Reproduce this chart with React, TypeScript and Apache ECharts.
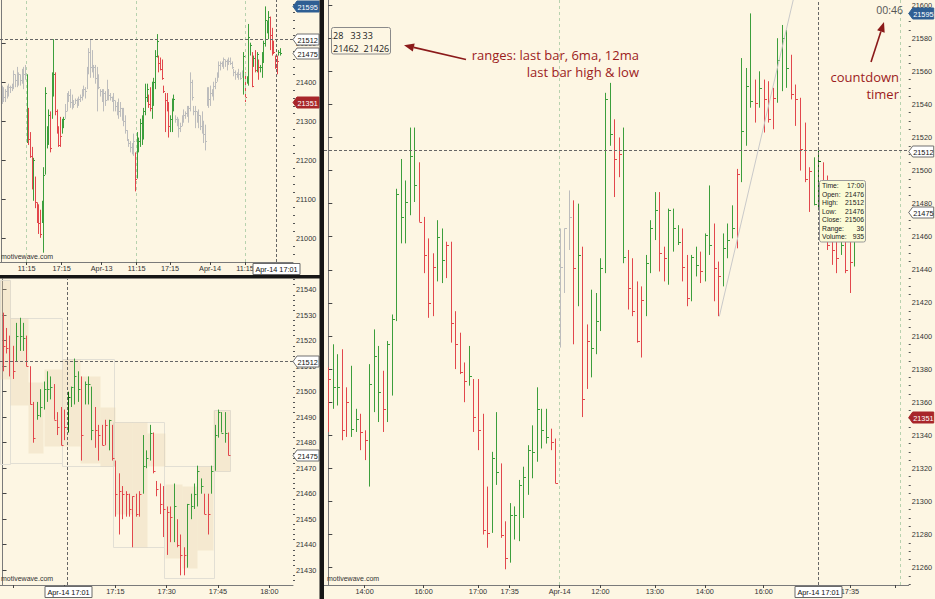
import React, { useEffect, useRef } from "react";
import * as echarts from "echarts";

const BG = "#fdf6e3";
const FONT = "Liberation Sans, Arial, sans-serif";
const NOTE_FONT = "Open Sans, Noto Sans, sans-serif";
const AXIS = "#7a7a7a";
const NOTE = "#9c1c1c";
const ARROW = "#8b1a1a";
const BAR_COLORS = ["#3c9e3c", "#e2474c", "#bdbdbd", "#0b6b0b"]; // up, down, neutral, highlighted

// ---------- main panel (right) ----------
const MAIN_HIGH = [
  21381, 21395, 21389, 21392, 21369, 21382, 21356, 21353, 21343, 21383,
  21404, 21394, 21379, 21397, 21413, 21489, 21507, 21494, 21526, 21526,
  21505, 21472, 21459, 21450, 21470, 21465, 21457, 21457, 21415, 21402,
  21384, 21394, 21374, 21374, 21353, 21309, 21330, 21354, 21323, 21288,
  21299, 21297, 21313, 21321, 21334, 21346, 21369, 21356, 21356, 21344,
  21338, 21465, 21465, 21488, 21482, 21480, 21454, 21407, 21428, 21426,
  21447, 21547, 21553, 21531, 21520, 21526, 21452, 21447, 21433, 21430,
  21449, 21470, 21487, 21487, 21454, 21477, 21477, 21467, 21465, 21449,
  21449, 21454, 21451, 21462, 21491, 21468, 21445, 21462, 21468, 21479,
  21501, 21568, 21562, 21595, 21555, 21560, 21555, 21554, 21550, 21580,
  21588, 21585, 21570, 21552, 21544, 21529, 21502, 21508, 21512, 21505,
  21497, 21482, 21479, 21473, 21470, 21462, 21464,
];
const MAIN_LOW = [
  21342, 21356, 21358, 21337, 21339, 21339, 21342, 21331, 21325, 21309,
  21354, 21348, 21342, 21348, 21364, 21409, 21456, 21456, 21473, 21481,
  21469, 21438, 21411, 21412, 21433, 21432, 21435, 21396, 21380, 21377,
  21360, 21370, 21342, 21331, 21280, 21272, 21281, 21310, 21278, 21259,
  21263, 21277, 21276, 21290, 21304, 21314, 21324, 21332, 21335, 21331,
  21311, 21393, 21426, 21452, 21395, 21418, 21351, 21368, 21375, 21389,
  21403, 21438, 21515, 21484, 21496, 21444, 21416, 21412, 21396, 21387,
  21412, 21438, 21458, 21439, 21433, 21431, 21451, 21455, 21433, 21418,
  21421, 21436, 21432, 21433, 21449, 21421, 21412, 21430, 21447, 21459,
  21453, 21493, 21515, 21538, 21529, 21538, 21523, 21529, 21525, 21541,
  21548, 21550, 21543, 21527, 21500, 21493, 21475, 21479, 21476, 21458,
  21452, 21443, 21438, 21449, 21438, 21426, 21442,
];
const MAIN_CLOSE = [
  21374, 21369, 21369, 21343, 21360, 21344, 21350, 21342, 21337, 21371,
  21388, 21366, 21356, 21395, 21410, 21486, 21472, 21481, 21509, 21491,
  21469, 21449, 21420, 21442, 21460, 21446, 21455, 21408, 21395, 21378,
  21373, 21376, 21351, 21343, 21283, 21281, 21326, 21318, 21280, 21266,
  21292, 21292, 21310, 21315, 21331, 21330, 21356, 21343, 21339, 21336,
  21311, 21442, 21465, 21472, 21441, 21449, 21362, 21397, 21393, 21409,
  21441, 21543, 21522, 21507, 21510, 21448, 21429, 21415, 21397, 21422,
  21444, 21465, 21476, 21450, 21447, 21476, 21465, 21457, 21442, 21423,
  21448, 21443, 21439, 21461, 21455, 21441, 21436, 21453, 21458, 21465,
  21498, 21524, 21551, 21542, 21541, 21550, 21543, 21531, 21544, 21567,
  21580, 21562, 21546, 21543, 21513, 21495, 21500, 21480, 21506, 21467,
  21455, 21452, 21447, 21455, 21440, 21445, 21461,
];
const MAIN_DIR =
  "duudduuddu" + "uuduuuuuuu" + "dddduudddd" + "dudddduudd" + "uuuuuuuuud" +
  "dnnndudduu" + "uuuddudddd" + "uuudduuudd" + "uuduudduuu" + "duuududddu" +
  "uuddddduhd" + "ddduddu";
const MAIN_X_TICKS = [8, 21, 33, 40, 51, 60, 72, 83, 96, 115, 125];
const MAIN_X_LABELS = ["14:00", "16:00", "17:00", "17:35", "Apr-14", "12:00", "13:00", "14:00", "16:00", "17:35", ""];
const MAIN_Y_LABELS = [
  21260, 21280, 21300, 21320, 21340, 21360, 21380, 21400, 21420,
  21440, 21460, 21480, 21500, 21520, 21540, 21560, 21580, 21600,
];
const MAIN_SESSION_LINES = [51, 126.2];
const MAIN_XHAIR = 108;
const TREND_LINE = [[86.2, 21411.8], [102.5, 21603.1]];

// ---------- top-left panel ----------
const TL_HIGH = [
  21392, 21388, 21383, 21392, 21397, 21392, 21397, 21431, 21421, 21440,
  21426, 21421, 21435, 21440, 21445, 21421, 21335, 21273, 21235, 21207,
  21159, 21093, 21088, 21074, 21097, 21183, 21388, 21288, 21331, 21326,
  21426, 21511, 21426, 21331, 21288, 21312, 21307, 21312, 21345, 21373,
  21378, 21383, 21369, 21354, 21359, 21359, 21364, 21369, 21383, 21392,
  21388, 21440, 21488, 21511, 21483, 21445, 21445, 21440, 21421, 21383,
  21383, 21383, 21378, 21407, 21383, 21373, 21364, 21373, 21354, 21350,
  21359, 21350, 21335, 21335, 21316, 21278, 21254, 21250, 21245, 21269,
  21221, 21273, 21259, 21307, 21316, 21335, 21397, 21397, 21369, 21388,
  21402, 21412, 21483, 21524, 21469, 21464, 21459, 21392, 21373, 21373,
  21350, 21316, 21359, 21369, 21316, 21312, 21307, 21297, 21316, 21331,
  21326, 21340, 21340, 21426, 21407, 21340, 21340, 21326, 21331, 21316,
  21326, 21302, 21292, 21388, 21388, 21392, 21383, 21402, 21412, 21426,
  21454, 21454, 21454, 21464, 21459, 21459, 21464, 21464, 21454, 21435,
  21431, 21426, 21435, 21426, 21431, 21478, 21426, 21416, 21550, 21502,
  21478, 21469, 21483, 21478, 21459, 21445, 21478, 21507, 21595, 21559,
  21583, 21569, 21540, 21507, 21469, 21469, 21483, 21488,
];
const TL_LOW = [
  21345, 21350, 21350, 21359, 21364, 21373, 21378, 21383, 21388, 21388,
  21392, 21392, 21397, 21383, 21407, 21245, 21240, 21207, 21126, 21097,
  21078, 21040, 21012, 21002, 21040, 20964, 21164, 21231, 21240, 21221,
  21307, 21364, 21316, 21269, 21235, 21235, 21269, 21283, 21307, 21326,
  21350, 21335, 21331, 21335, 21345, 21335, 21340, 21350, 21354, 21364,
  21359, 21383, 21421, 21412, 21426, 21412, 21397, 21326, 21383, 21364,
  21350, 21326, 21340, 21354, 21354, 21354, 21350, 21326, 21326, 21316,
  21307, 21312, 21302, 21288, 21269, 21250, 21235, 21221, 21216, 21212,
  21121, 21154, 21221, 21235, 21240, 21254, 21316, 21350, 21335, 21326,
  21307, 21340, 21383, 21464, 21426, 21431, 21407, 21373, 21273, 21326,
  21259, 21273, 21273, 21326, 21297, 21288, 21259, 21273, 21288, 21297,
  21307, 21312, 21297, 21326, 21354, 21316, 21283, 21297, 21283, 21278,
  21269, 21245, 21226, 21340, 21335, 21340, 21364, 21354, 21383, 21402,
  21412, 21431, 21440, 21435, 21440, 21431, 21445, 21445, 21435, 21416,
  21407, 21412, 21407, 21407, 21412, 21369, 21350, 21397, 21392, 21469,
  21388, 21440, 21426, 21426, 21407, 21426, 21412, 21450, 21492, 21526,
  21511, 21483, 21469, 21473, 21435, 21421, 21469, 21469,
];
const TL_CLOSE = [
  21373, 21364, 21378, 21383, 21388, 21388, 21392, 21421, 21407, 21412,
  21421, 21407, 21426, 21421, 21435, 21326, 21254, 21212, 21135, 21202,
  21093, 21059, 21040, 21012, 21088, 21164, 21373, 21278, 21316, 21231,
  21412, 21421, 21326, 21283, 21240, 21264, 21302, 21307, 21326, 21354,
  21369, 21350, 21354, 21345, 21354, 21350, 21359, 21364, 21373, 21383,
  21378, 21431, 21478, 21440, 21435, 21440, 21412, 21392, 21388, 21378,
  21359, 21373, 21354, 21383, 21369, 21364, 21359, 21354, 21340, 21335,
  21326, 21335, 21316, 21302, 21278, 21254, 21245, 21235, 21226, 21250,
  21154, 21259, 21250, 21297, 21307, 21326, 21364, 21383, 21345, 21335,
  21383, 21402, 21469, 21507, 21450, 21435, 21412, 21378, 21354, 21335,
  21288, 21307, 21345, 21359, 21307, 21302, 21283, 21288, 21307, 21316,
  21321, 21331, 21335, 21402, 21364, 21326, 21326, 21307, 21316, 21288,
  21283, 21269, 21250, 21373, 21359, 21373, 21369, 21392, 21402, 21421,
  21445, 21450, 21445, 21459, 21454, 21450, 21454, 21450, 21440, 21426,
  21421, 21416, 21421, 21412, 21421, 21469, 21364, 21412, 21516, 21497,
  21392, 21464, 21431, 21473, 21440, 21440, 21473, 21502, 21559, 21554,
  21569, 21521, 21478, 21478, 21440, 21454, 21478, 21475,
];
const TL_DIR =
  "nnnnnnnnnnnnnnn" +
  "udddudddduuuuuduudddduu" +
  "nnnnnnnnnn" + "nnnnnnnnnn" + "nnnnnnnnnn" + "nnnnnnnnnn" + "nn" +
  "d" + "uuuuuuu" + "dd" + "uuuu" + "ddddddd" + "uuu" +
  "nnnnnnnnnn" + "nnnnnnnnnn" + "nnnnnnnnnn" + "nnnnnnnnnn" + "n" +
  "u" + "d" + "uuu" + "d" + "u" + "d" + "u" + "d" + "uuuuuu" + "ddddd" + "uu";
const TL_X_TICKS = [15, 36, 60, 81, 101, 125, 146];
const TL_X_LABELS = ["11:15", "17:15", "Apr-13", "11:15", "17:15", "Apr-14", "11:15"];
const TL_Y_LABELS = [21000, 21100, 21200, 21300, 21400, 21500];
const TL_SESSION_LINES = [15, 81, 146];
const TL_XHAIR = 164.6;

// ---------- bottom-left panel (1-minute bars) ----------
const BL_HIGH = [
  21531, 21525, 21522, 21518, 21527, 21529, 21527, 21522, 21510, 21496,
  21496, 21501, 21504, 21508, 21506, 21503, 21492, 21494, 21493, 21500,
  21502, 21513, 21508, 21506, 21504, 21506, 21502, 21494, 21487, 21487,
  21489, 21489, 21487, 21473, 21468, 21463, 21461, 21460, 21459, 21460,
  21461, 21483, 21477, 21487, 21484, 21465, 21464, 21463, 21455, 21455,
  21464, 21450, 21444, 21439, 21456, 21460, 21464, 21471, 21466, 21460,
  21460, 21471, 21487, 21493, 21492, 21492, 21484,
];
const BL_LOW = [
  21508, 21515, 21506, 21505, 21512, 21516, 21516, 21510, 21495, 21480,
  21489, 21490, 21493, 21496, 21497, 21489, 21483, 21479, 21481, 21484,
  21494, 21495, 21496, 21473, 21495, 21495, 21481, 21478, 21473, 21479,
  21479, 21477, 21473, 21451, 21444, 21450, 21451, 21451, 21439, 21451,
  21451, 21460, 21470, 21473, 21468, 21459, 21452, 21443, 21436, 21441,
  21441, 21439, 21428, 21428, 21431, 21450, 21454, 21455, 21460, 21452,
  21444, 21460, 21469, 21482, 21484, 21480, 21475,
];
const BL_CLOSE = [
  21518, 21517, 21512, 21508, 21522, 21522, 21521, 21510, 21495, 21482,
  21491, 21494, 21501, 21501, 21502, 21489, 21486, 21479, 21486, 21498,
  21502, 21506, 21501, 21483, 21503, 21503, 21485, 21485, 21483, 21479,
  21487, 21489, 21474, 21460, 21461, 21460, 21460, 21454, 21459, 21452,
  21460, 21471, 21474, 21484, 21469, 21462, 21456, 21454, 21453, 21451,
  21455, 21440, 21436, 21436, 21456, 21455, 21460, 21469, 21463, 21452,
  21452, 21469, 21483, 21492, 21484, 21484, 21475,
];
const BL_DIR =
  "dddd" + "uuu" + "ddd" + "uuuuu" + "dddd" + "h" + "uuu" + "d" + "uuu" + "dddd" +
  "u" + "ddddddddd" + "uuu" + "dddddd" + "u" + "ddd" + "uuuuu" + "dd" + "uuuuu" + "d";
const BL_X_TICKS = [3, 18, 33, 48, 63, 78];
const BL_X_LABELS = ["", "", "17:15", "17:30", "17:45", "18:00"];
const BL_Y_LABELS = [21430, 21440, 21450, 21460, 21470, 21480, 21490, 21500, 21510, 21520, 21530, 21540];
const BL_XHAIR = 19;
// shaded range bands (inner) and their outer envelopes
const BL_BAND_START = [-0.7, 2.2, 7.5, 12, 17.3, 22.7, 28.5, 32.9, 37.8, 42.1, 47.5, 52.4, 56.8, 61.6];
const BL_BAND_END = [2.2, 7.5, 12, 17.3, 22.7, 28.5, 32.9, 37.8, 42.1, 47.5, 52.4, 56.8, 61.6, 66.5];
const BL_BAND_HIGH = [21544, 21529, 21504, 21509, 21513, 21506, 21494, 21488, 21488, 21484, 21464, 21463, 21471, 21493];
const BL_BAND_LOW = [21505, 21495, 21476, 21479, 21479, 21472, 21471, 21452, 21439, 21471, 21435, 21431, 21438, 21469];
const BL_ENV_START = [-0.7, 2.2, 17.3, 32.4, 47.3, 61.9];
const BL_ENV_END = [2.2, 17.3, 32.4, 47.3, 61.9, 66.5];
const BL_ENV_HIGH = [21544, 21529, 21513, 21488, 21471, 21493];
const BL_ENV_LOW = [21472, 21472, 21471, 21439, 21427, 21469];

// ---------- price tags, crosshair, notes ----------
const XHAIR_PRICE = 21512;
const XHAIR_LABEL = "Apr-14 17:01";
const PRICE_TAGS = [21595, 21512, 21475, 21351];
const PRICE_TAG_KINDS = [0, 1, 1, 2];
const BL_TAGS = [21512, 21475];
const BL_TAG_KINDS = [1, 1];
const RANGE_VALUES = [28, 33, 33];
const LAST_BAR_HL = [21462, 21426];
const COUNTDOWN = "00:46";
const TOOLTIP_LABELS = ["Time:", "Open:", "High:", "Low:", "Close:", "Range:", "Volume:"];
const TOOLTIP_VALUES = ["17:00", "21476", "21512", "21476", "21506", "36", "935"];

function minorTicks(labels: number[], step: number, lo: number, hi: number) {
  const out: number[] = [];
  for (let v = Math.ceil(lo / step) * step; v <= hi; v += step) {
    if (labels.indexOf(v) < 0) out.push(v);
  }
  return out;
}

function ohlcSeries(ax: number, ay: number, high: number[], low: number[], close: number[], dir: string, tickLen: number, lines: any[]) {
  const data = high.map((h, i) => [i, h, low[i], close[i], Math.max(0, "udnh".indexOf(dir[i] || "n"))]);
  return {
    type: "custom",
    xAxisIndex: ax,
    yAxisIndex: ay,
    clip: true,
    z: 3,
    silent: true,
    data,
    renderItem: (params: any, api: any) => {
      const x = api.value(0);
      const top = api.coord([x, api.value(1)]);
      const bot = api.coord([x, api.value(2)]);
      const cl = api.coord([x, api.value(3)]);
      const color = BAR_COLORS[api.value(4)];
      const px = Math.round(top[0]) + 0.5;
      const cy = Math.round(cl[1]) + 0.5;
      return {
        type: "group",
        children: [
          { type: "line", shape: { x1: px, y1: top[1], x2: px, y2: bot[1] }, style: { stroke: color, lineWidth: 1 } },
          { type: "line", shape: { x1: px, y1: cy, x2: px + tickLen, y2: cy }, style: { stroke: color, lineWidth: 1 } },
        ],
      };
    },
    markLine: {
      silent: true,
      symbol: ["none", "none"],
      label: { show: false },
      animation: false,
      data: lines,
    },
  };
}

function bandSeries(start: number[], end: number[], hi: number[], lo: number[], style: any) {
  return {
    type: "custom",
    xAxisIndex: 1,
    yAxisIndex: 1,
    clip: true,
    z: 1,
    silent: true,
    data: start.map((s, i) => [s, hi[i], end[i], lo[i]]),
    renderItem: (params: any, api: any) => {
      const a = api.coord([api.value(0), api.value(1)]);
      const b = api.coord([api.value(2), api.value(3)]);
      return {
        type: "rect",
        shape: { x: Math.round(a[0]) + 0.5, y: Math.round(a[1]) + 0.5, width: Math.round(b[0] - a[0]), height: Math.round(b[1] - a[1]) },
        style,
      };
    },
  };
}

function tagSeries(ax: number, ay: number, values: number[], kinds: number[], width: number) {
  const fills = ["#2f5f93", "#ffffff", "#a8262a"];
  const strokes = ["#2f5f93", "#707070", "#a8262a"];
  const texts = ["#ffffff", "#111111", "#ffffff"];
  return {
    type: "custom",
    xAxisIndex: ax,
    yAxisIndex: ay,
    clip: false,
    z: 20,
    silent: true,
    data: values.map((v, i) => [0, v, kinds[i]]),
    renderItem: (params: any, api: any) => {
      const cs = params.coordSys;
      const y = Math.round(api.coord([0, api.value(1)])[1]) + 0.5;
      const x0 = cs.x + cs.width;
      const k = api.value(2);
      return {
        type: "group",
        children: [
          {
            type: "polygon",
            shape: { points: [[x0, y], [x0 + 4, y - 5.5], [x0 + width, y - 5.5], [x0 + width, y + 5.5], [x0 + 4, y + 5.5]] },
            style: { fill: fills[k], stroke: strokes[k], lineWidth: 1 },
          },
          {
            type: "text",
            style: {
              text: String(api.value(1)), x: x0 + 4.5, y: y + 0.5,
              align: "left", verticalAlign: "middle", textAlign: "left", textVerticalAlign: "middle",
              fontSize: 7.3, fontFamily: FONT, fill: texts[k],
            },
          },
        ],
      };
    },
  };
}

function xhairBoxSeries(ax: number, ay: number, xVal: number, yVal: number) {
  return {
    type: "custom",
    xAxisIndex: ax,
    yAxisIndex: ay,
    clip: false,
    z: 30,
    silent: true,
    data: [[xVal, yVal]],
    renderItem: (params: any, api: any) => {
      const cs = params.coordSys;
      const x = Math.round(api.coord([api.value(0), api.value(1)])[0]);
      const y0 = cs.y + cs.height;
      const w = 47;
      return {
        type: "group",
        children: [
          { type: "rect", shape: { x: x - w / 2 + 0.5, y: y0 + 1.5, width: w, height: 11 }, style: { fill: "#ffffff", stroke: "#6a6a6a", lineWidth: 1 } },
          {
            type: "text",
            style: {
              text: XHAIR_LABEL, x: x + 0.5, y: y0 + 7.3,
              align: "center", verticalAlign: "middle", textAlign: "center", textVerticalAlign: "middle",
              fontSize: 7.3, fontFamily: FONT, fill: "#111",
            },
          },
        ],
      };
    },
  };
}

function xAxisCfg(gridIndex: number, min: number, max: number, ticks: number[], labels: string[]) {
  return {
    type: "value",
    gridIndex,
    min,
    max,
    position: "bottom",
    axisLine: { show: true, lineStyle: { color: AXIS, width: 1 } },
    axisTick: { show: true, length: 3, customValues: ticks, lineStyle: { color: "#444" } },
    axisLabel: {
      show: true,
      customValues: ticks,
      formatter: (v: number) => {
        const i = ticks.indexOf(v);
        return i >= 0 ? labels[i] : "";
      },
      fontSize: 7.3,
      fontFamily: FONT,
      color: "#333",
      margin: 3,
    },
    splitLine: { show: false },
  };
}

function yMajor(gridIndex: number, min: number, max: number, labels: number[]) {
  return {
    type: "value",
    gridIndex,
    min,
    max,
    position: "right",
    axisLine: { show: true, lineStyle: { color: AXIS, width: 1 } },
    axisTick: { show: true, length: 4, customValues: labels, lineStyle: { color: "#444" } },
    axisLabel: {
      show: true,
      customValues: labels,
      formatter: (v: number) => String(v),
      fontSize: 7.3,
      fontFamily: FONT,
      color: "#333",
      margin: 3,
    },
    splitLine: { show: false },
  };
}

function yMinor(gridIndex: number, min: number, max: number, ticks: number[]) {
  return {
    type: "value",
    gridIndex,
    min,
    max,
    position: "right",
    axisLine: { show: false },
    axisTick: { show: true, length: 2, customValues: ticks, lineStyle: { color: "#555" } },
    axisLabel: { show: false },
    splitLine: { show: false },
  };
}

const XHAIR_STYLE = { type: [3, 2], color: "#666", width: 1 };
const SESSION_STYLE = { type: [3, 3], color: "#b7d2ae", width: 1 };

function txt(x: number, y: number, text: string, size: number, fill: string, align = "left", family = FONT, z = 50) {
  return {
    type: "text",
    z,
    style: {
      text, x, y, fontSize: size, fontFamily: family, fill,
      align, verticalAlign: "middle", textAlign: align, textVerticalAlign: "middle",
    },
  };
}

function buildOption() {
  const TL_RANGE = [20940.1, 21611.4];
  const BL_RANGE = [21424.2, 21544.2];
  const MAIN_RANGE = [21249.5, 21603.1];

  const graphics: any[] = [
    // panel separators
    { type: "rect", z: 60, shape: { x: 319.5, y: 0, width: 4.5, height: 599 }, style: { fill: "#161616" } },
    { type: "rect", z: 60, shape: { x: 0, y: 275, width: 320, height: 3.5 }, style: { fill: "#161616" } },
    // watermarks
    txt(1, 256.5, "motivewave.com", 7, "#333", "left", FONT, 5),
    txt(1, 578, "motivewave.com", 7, "#333", "left", FONT, 5),
    txt(327, 578, "motivewave.com", 7, "#333", "left", FONT, 5),
    // ranges box
    { type: "rect", z: 50, shape: { x: 331.5, y: 27.5, width: 59, height: 26.5, r: 2 }, style: { fill: "rgba(0,0,0,0)", stroke: "#8a8a8a", lineWidth: 1 } },
    txt(333, 35.7, String(RANGE_VALUES[0]), 9, "#222", "left", NOTE_FONT),
    txt(350.5, 35.7, String(RANGE_VALUES[1]), 9, "#222", "left", NOTE_FONT),
    txt(362.5, 35.7, String(RANGE_VALUES[2]), 9, "#222", "left", NOTE_FONT),
    txt(333, 48, String(LAST_BAR_HL[0]), 9, "#222", "left", NOTE_FONT),
    txt(363.5, 48, String(LAST_BAR_HL[1]), 9, "#222", "left", NOTE_FONT),
    // arrow to ranges box
    { type: "line", z: 50, shape: { x1: 466, y1: 59.5, x2: 413.7, y2: 47.4 }, style: { stroke: ARROW, lineWidth: 1.6 } },
    { type: "polygon", z: 50, shape: { points: [[404, 45.2], [414.7, 43.5], [412.8, 51.4]] }, style: { fill: ARROW } },
    txt(639, 55, "ranges: last bar, 6ma, 12ma", 13, NOTE, "right", NOTE_FONT),
    txt(639, 71.5, "last bar high & low", 13, NOTE, "right", NOTE_FONT),
    // countdown
    txt(903, 10, COUNTDOWN, 10.5, "#555", "right", NOTE_FONT),
    { type: "line", z: 50, shape: { x1: 871, y1: 62, x2: 880.9, y2: 31.5 }, style: { stroke: ARROW, lineWidth: 1.6 } },
    { type: "polygon", z: 50, shape: { points: [[884, 22], [884.7, 32.8], [877.1, 30.3]] }, style: { fill: ARROW } },
    txt(899, 77, "countdown", 13, NOTE, "right", NOTE_FONT),
    txt(899, 93.5, "timer", 13, NOTE, "right", NOTE_FONT),
    // data window tooltip
    { type: "rect", z: 70, shape: { x: 819.5, y: 180.5, width: 46, height: 61.5, r: 2 }, style: { fill: "#fbfbd6", stroke: "#9a9a9a", lineWidth: 1 } },
  ];
  TOOLTIP_LABELS.forEach((lab, j) => {
    graphics.push(txt(822, 185.8 + 8.45 * j, lab, 6.8, "#222", "left", FONT, 71));
    graphics.push(txt(864, 185.8 + 8.45 * j, TOOLTIP_VALUES[j], 6.8, "#222", "right", FONT, 71));
  });

  return {
    animation: false,
    backgroundColor: BG,
    grid: [
      { left: 0, top: 0, width: 293, height: 262 },
      { left: 0, top: 279, width: 293, height: 306 },
      { left: 324, top: 0, width: 586, height: 585 },
    ],
    xAxis: [
      xAxisCfg(0, -1.0, 174.8, TL_X_TICKS, TL_X_LABELS),
      xAxisCfg(1, -0.74, 84.93, BL_X_TICKS, BL_X_LABELS),
      xAxisCfg(2, -0.95, 127.96, MAIN_X_TICKS, MAIN_X_LABELS),
    ],
    yAxis: [
      yMajor(0, TL_RANGE[0], TL_RANGE[1], TL_Y_LABELS),
      yMajor(1, BL_RANGE[0], BL_RANGE[1], BL_Y_LABELS),
      yMajor(2, MAIN_RANGE[0], MAIN_RANGE[1], MAIN_Y_LABELS),
      yMinor(0, TL_RANGE[0], TL_RANGE[1], minorTicks(TL_Y_LABELS, 20, TL_RANGE[0], TL_RANGE[1])),
      yMinor(1, BL_RANGE[0], BL_RANGE[1], minorTicks(BL_Y_LABELS, 2, BL_RANGE[0], BL_RANGE[1])),
      yMinor(2, MAIN_RANGE[0], MAIN_RANGE[1], minorTicks(MAIN_Y_LABELS, 5, MAIN_RANGE[0], MAIN_RANGE[1])),
    ],
    series: [
      bandSeries(BL_ENV_START, BL_ENV_END, BL_ENV_HIGH, BL_ENV_LOW, { fill: "rgba(0,0,0,0)", stroke: "#e2dfd4", lineWidth: 1 }),
      bandSeries(BL_BAND_START, BL_BAND_END, BL_BAND_HIGH, BL_BAND_LOW, { fill: "rgba(228,200,158,0.28)", stroke: "none" }),
      ohlcSeries(0, 0, TL_HIGH, TL_LOW, TL_CLOSE, TL_DIR, 1.5, [
        ...TL_SESSION_LINES.map((v) => ({ xAxis: v, lineStyle: SESSION_STYLE })),
        { xAxis: TL_XHAIR, lineStyle: XHAIR_STYLE },
        { yAxis: XHAIR_PRICE, lineStyle: XHAIR_STYLE },
      ]),
      ohlcSeries(1, 1, BL_HIGH, BL_LOW, BL_CLOSE, BL_DIR, 2, [
        { xAxis: BL_XHAIR, lineStyle: XHAIR_STYLE },
        { yAxis: XHAIR_PRICE, lineStyle: XHAIR_STYLE },
      ]),
      ohlcSeries(2, 2, MAIN_HIGH, MAIN_LOW, MAIN_CLOSE, MAIN_DIR, 2.5, [
        ...MAIN_SESSION_LINES.map((v) => ({ xAxis: v, lineStyle: SESSION_STYLE })),
        { xAxis: MAIN_XHAIR, lineStyle: XHAIR_STYLE },
        { yAxis: XHAIR_PRICE, lineStyle: XHAIR_STYLE },
      ]),
      {
        type: "line",
        xAxisIndex: 2,
        yAxisIndex: 2,
        data: TREND_LINE,
        showSymbol: false,
        symbol: "none",
        silent: true,
        z: 4,
        lineStyle: { color: "#c9c9c9", width: 1 },
      },
      tagSeries(0, 0, PRICE_TAGS, PRICE_TAG_KINDS, 26),
      tagSeries(1, 1, BL_TAGS, BL_TAG_KINDS, 26),
      tagSeries(2, 2, PRICE_TAGS, PRICE_TAG_KINDS, 25),
      xhairBoxSeries(0, 0, TL_XHAIR, 21300),
      xhairBoxSeries(1, 1, BL_XHAIR, 21480),
      xhairBoxSeries(2, 2, MAIN_XHAIR, 21400),
    ],
    graphic: { elements: graphics },
  };
}

export default function App() {
  const ref = useRef<HTMLDivElement>(null);
  useEffect(() => {
    if (!ref.current) return;
    const chart = echarts.init(ref.current, null, { renderer: "svg" });
    chart.setOption(buildOption() as any);
    return () => chart.dispose();
  }, []);
  return (
    <div
      ref={ref}
      style={{ position: "fixed", left: 0, top: 0, width: 935, height: 599, background: BG }}
    />
  );
}
